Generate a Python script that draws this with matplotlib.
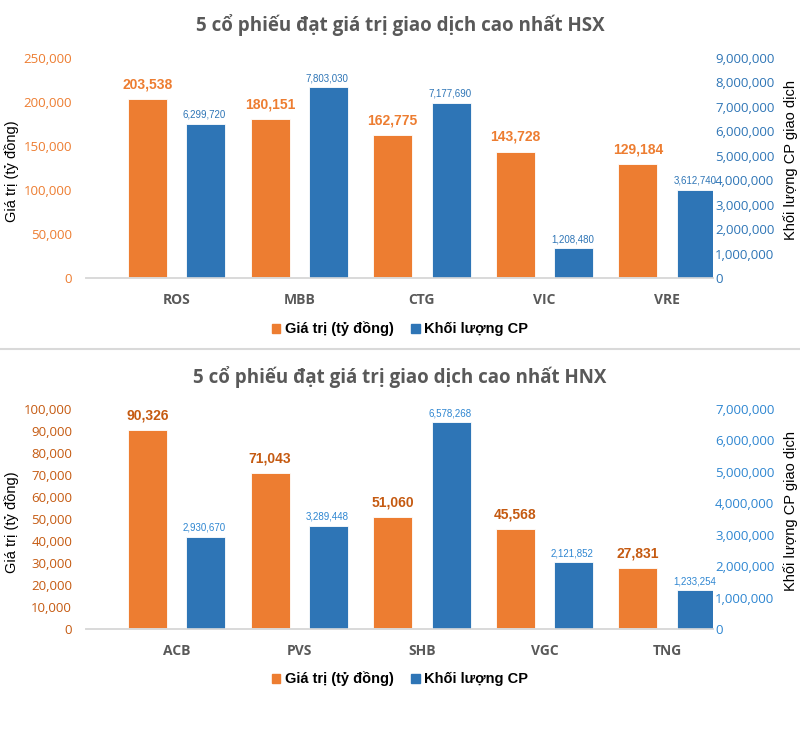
import numpy as np
import matplotlib
matplotlib.use('Agg')
import matplotlib.pyplot as plt
from matplotlib.lines import Line2D
from matplotlib.patches import Patch

hsx_codes = ["ROS", "MBB", "CTG", "VIC", "VRE"]
hsx_value = [203538, 180151, 162775, 143728, 129184]
hsx_volume = [6299720, 7803030, 7177690, 1208480, 3612740]

hnx_codes = ["ACB", "PVS", "SHB", "VGC", "TNG"]
hnx_value = [90326, 71043, 51060, 45568, 27831]
hnx_volume = [2930670, 3289448, 6578268, 2121852, 1233254]

orange = '#ED7D31'
blue = '#2E75B6'
arial = ['Liberation Sans', 'DejaVu Sans']
base_font = ['Open Sans', 'DejaVu Sans']


def draw_panel(fig, rect, title, title_y, codes, value, volume,
               vmax, vstep, qmax, qstep, val_col, vol_col, legend_y):
    ax = fig.add_axes(rect)
    ax2 = ax.twinx()
    x = np.arange(len(codes))
    off = 0.2386
    w = 0.318
    ax.bar(x - off, value, width=w, color=orange, edgecolor='white', linewidth=0.6)
    ax2.bar(x + off, volume, width=w, color=blue, edgecolor='white', linewidth=0.6)

    for xi, v in zip(x, value):
        ax.annotate(f'{v:,}', (xi - off, v), xytext=(0, 5.5), textcoords='offset points',
                    ha='center', va='bottom', fontsize=10, fontweight='bold',
                    color=val_col, family=arial)
    for xi, v in zip(x, volume):
        ax2.annotate(f'{v:,}', (xi + off, v), xytext=(-1, 3), textcoords='offset points',
                     ha='center', va='bottom', fontsize=7, color=vol_col, family=arial)

    ax.set_xlim(-0.74, 4.374)
    ax.set_ylim(0, vmax)
    ax2.set_ylim(0, qmax)
    ax.set_yticks(np.arange(0, vmax + 1, vstep))
    ax2.set_yticks(np.arange(0, qmax + 1, qstep))
    ax.yaxis.set_major_formatter(matplotlib.ticker.FuncFormatter(lambda v, p: f'{int(v):,}'))
    ax2.yaxis.set_major_formatter(matplotlib.ticker.FuncFormatter(lambda v, p: f'{int(v):,}'))
    ax.tick_params(axis='y', length=0, pad=10, labelsize=9.5, labelcolor=val_col)
    ax2.tick_params(axis='y', length=0, pad=1.5, labelsize=9.5, labelcolor=vol_col)
    for t in ax.get_yticklabels() + ax2.get_yticklabels():
        t.set_family(base_font)

    ax.set_xticks(x)
    ax.set_xticklabels(codes)
    ax.tick_params(axis='x', length=0, pad=11, labelsize=10, labelcolor='#595959')
    for t in ax.get_xticklabels():
        t.set_family(base_font)
        t.set_fontweight('bold')

    for a in (ax, ax2):
        for s in ['top', 'left', 'right']:
            a.spines[s].set_visible(False)
        a.spines['bottom'].set_color('#D9D9D9')
        a.spines['bottom'].set_linewidth(1.2)

    mid = rect[1] + rect[3] / 2
    fig.text(0.5, title_y, title, ha='center', va='center', fontsize=13.5,
             fontweight='bold', color='#595959', family=base_font)
    fig.text(0.015, mid - 3 / 730, 'Giá trị (tỷ đồng)', rotation=90, ha='center',
             va='center', fontsize=10.5, color='black', family=arial)
    fig.text(0.988, mid + 8 / 730, 'Khối lượng CP giao dịch', rotation=90, ha='center',
             va='center', fontsize=10.5, color='black', family=arial)

    handles = [Patch(color=orange), Patch(color=blue)]
    fig.legend(handles, ['Giá trị (tỷ đồng)', 'Khối lượng CP'], loc='center',
               bbox_to_anchor=(0.5, legend_y), ncol=2, frameon=False,
               prop={'family': arial, 'weight': 'bold', 'size': 10.5},
               handlelength=0.6, handleheight=0.6, handletextpad=0.3, columnspacing=1.2)


fig = plt.figure(figsize=(8, 7.3), dpi=100)
H = 730.0
draw_panel(fig, [86 / 800, 1 - 278 / H, 627 / 800, 220 / H],
           '5 cổ phiếu đạt giá trị giao dịch cao nhất HSX', 1 - 25 / H,
           hsx_codes, hsx_value, hsx_volume, 250000, 50000, 9000000, 1000000,
           orange, blue, 1 - 329 / H)
draw_panel(fig, [86 / 800, 1 - 629 / H, 627 / 800, 220 / H],
           '5 cổ phiếu đạt giá trị giao dịch cao nhất HNX', 1 - 377 / H,
           hnx_codes, hnx_value, hnx_volume, 100000, 10000, 7000000, 1000000,
           '#C55A11', '#2E86D1', 1 - 679 / H)

fig.add_artist(Line2D([0, 1], [1 - 349 / H] * 2, color='#D9D9D9', linewidth=1.5))

fig.savefig('out.png', dpi=100)
